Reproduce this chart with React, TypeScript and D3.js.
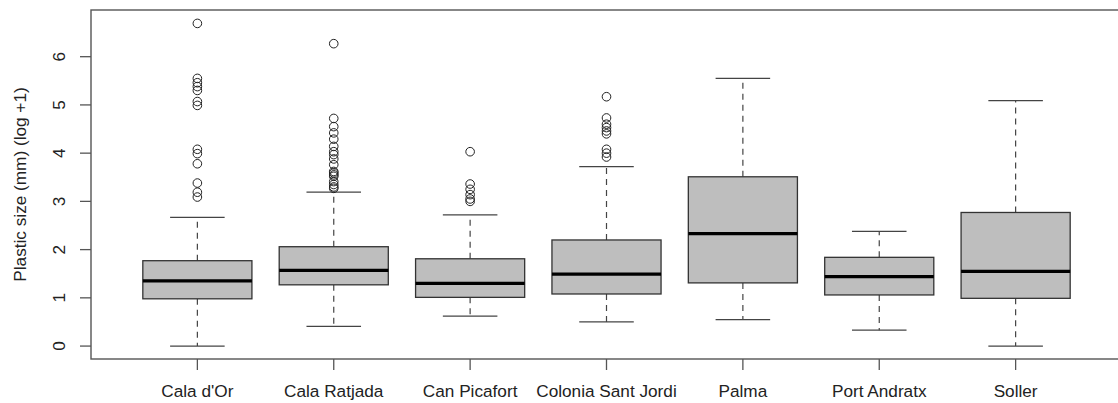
import React from "react";
import * as d3 from "d3";

const categories = ["Cala d'Or", "Cala Ratjada", "Can Picafort", "Colonia Sant Jordi", "Palma", "Port Andratx", "Soller"];
const lowerWhisker = [0.0, 0.41, 0.62, 0.5, 0.55, 0.33, 0.0];
const q1 = [0.98, 1.27, 1.01, 1.08, 1.31, 1.06, 0.99];
const median = [1.35, 1.57, 1.3, 1.49, 2.33, 1.44, 1.55];
const q3 = [1.77, 2.06, 1.81, 2.2, 3.51, 1.84, 2.77];
const upperWhisker = [2.67, 3.19, 2.72, 3.72, 5.55, 2.38, 5.09];

const outCalaDOr = [6.69, 5.55, 5.46, 5.38, 5.3, 5.07, 4.99, 4.08, 3.99, 3.78, 3.38, 3.19, 3.09];
const outCalaRatjada = [6.27, 4.72, 4.55, 4.42, 4.29, 4.14, 4.03, 3.97, 3.88, 3.76, 3.62, 3.59, 3.55, 3.52, 3.41, 3.35, 3.3, 3.27];
const outCanPicafort = [4.03, 3.36, 3.25, 3.14, 3.05, 3.0];
const outColonia = [5.17, 4.73, 4.6, 4.53, 4.46, 4.4, 4.08, 4.0, 3.92];
const outPalma: number[] = [];
const outPortAndratx: number[] = [];
const outSoller: number[] = [];
const outliers = [outCalaDOr, outCalaRatjada, outCanPicafort, outColonia, outPalma, outPortAndratx, outSoller];

const yTicks = [0, 1, 2, 3, 4, 5, 6];
const yTitle = "Plastic size (mm) (log +1)";

export default function App() {
  const W = 1118, H = 403;
  const left = 91, right = 1122, top = 10, bottom = 359;
  const x = d3.scaleLinear().domain([0.22, 7.78]).range([left, right]);
  const y = d3.scaleLinear().domain([-0.268, 6.968]).range([bottom, top]);
  const unit = x(2) - x(1);
  const bw = unit * 0.8;
  const cw = unit * 0.4;
  const font = "Liberation Sans, Arial, Helvetica, sans-serif";
  const fs = 17.2;
  const frameColor = "#555";

  return (
    <svg width={W} height={H} style={{ position: "absolute", left: 0, top: 0, background: "#fff" }} fontFamily={font}>
      {categories.map((c, i) => {
        const cx = x(i + 1);
        return (
          <g key={c}>
            <line x1={cx} x2={cx} y1={y(q3[i])} y2={y(upperWhisker[i])} stroke="#444" strokeWidth={1.2} strokeDasharray="6,5" />
            <line x1={cx} x2={cx} y1={y(q1[i])} y2={y(lowerWhisker[i])} stroke="#444" strokeWidth={1.2} strokeDasharray="6,5" />
            <line x1={cx - cw / 2} x2={cx + cw / 2} y1={y(upperWhisker[i])} y2={y(upperWhisker[i])} stroke="#444" strokeWidth={1.3} />
            <line x1={cx - cw / 2} x2={cx + cw / 2} y1={y(lowerWhisker[i])} y2={y(lowerWhisker[i])} stroke="#444" strokeWidth={1.3} />
            <rect x={cx - bw / 2} y={y(q3[i])} width={bw} height={y(q1[i]) - y(q3[i])} fill="#bebebe" stroke="#333" strokeWidth={1.3} />
            <line x1={cx - bw / 2} x2={cx + bw / 2} y1={y(median[i])} y2={y(median[i])} stroke="#000" strokeWidth={3.2} />
            {outliers[i].map((v, k) => (
              <circle key={k} cx={cx} cy={y(v)} r={4.3} fill="none" stroke="#222" strokeWidth={1} />
            ))}
          </g>
        );
      })}
      <rect x={left} y={top} width={right - left} height={bottom - top} fill="none" stroke={frameColor} strokeWidth={1.4} />
      {yTicks.map((t) => (
        <g key={t}>
          <line x1={left - 11} x2={left} y1={y(t)} y2={y(t)} stroke={frameColor} strokeWidth={1.3} />
          <text transform={`translate(65,${y(t)}) rotate(-90)`} textAnchor="middle" fontSize={fs} fill="#222">{t}</text>
        </g>
      ))}
      {categories.map((c, i) => (
        <g key={c}>
          <line x1={x(i + 1)} x2={x(i + 1)} y1={bottom} y2={bottom + 11} stroke={frameColor} strokeWidth={1.3} />
          <text x={x(i + 1)} y={397} textAnchor="middle" fontSize={fs} fill="#222">{c}</text>
        </g>
      ))}
      <text transform={`translate(26,${(top + bottom) / 2}) rotate(-90)`} textAnchor="middle" fontSize={fs} fill="#222">{yTitle}</text>
    </svg>
  );
}
